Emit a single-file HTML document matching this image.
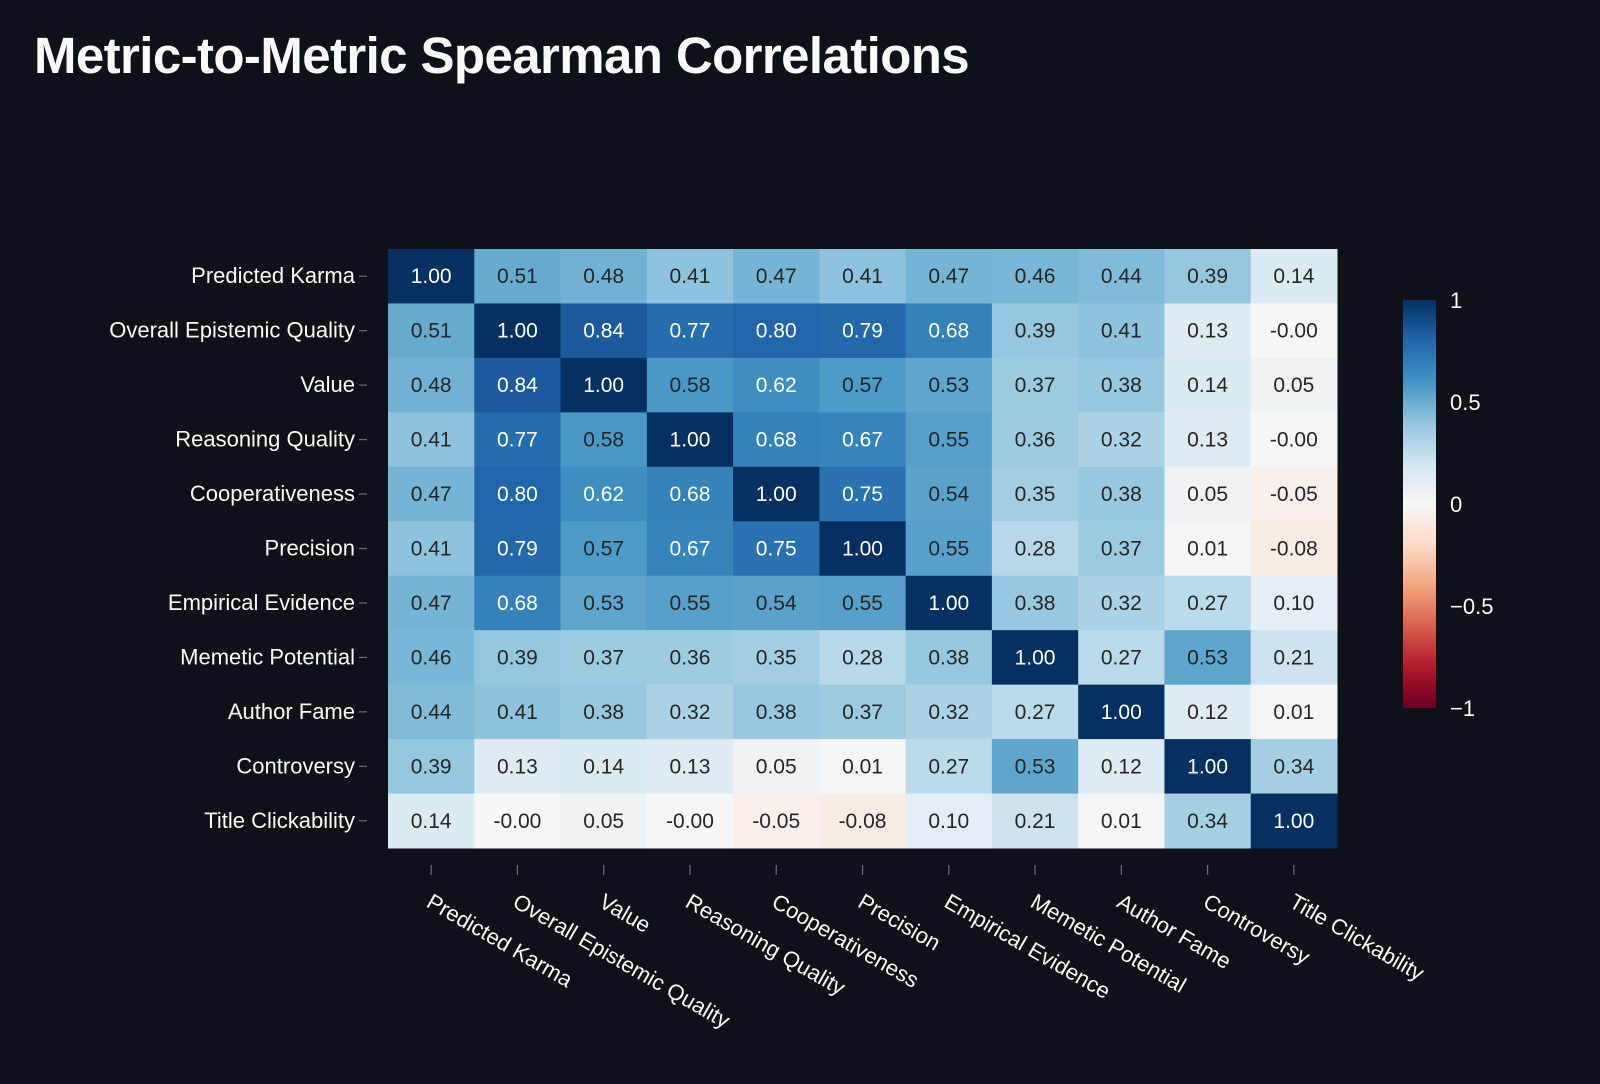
<!DOCTYPE html>
<html><head><meta charset="utf-8">
<style>
html,body{margin:0;padding:0;background:#0e1117;}
body{width:1600px;height:1084px;overflow:hidden;font-family:"Liberation Sans",sans-serif;}
h1{position:absolute;left:34px;top:26px;margin:0;color:#fafafa;font-size:51px;font-weight:bold;letter-spacing:-0.6px;}
</style></head>
<body>
<h1>Metric-to-Metric Spearman Correlations</h1>
<svg id="chart" width="1600" height="1084" style="position:absolute;left:0;top:0" xmlns="http://www.w3.org/2000/svg">
<defs>
<linearGradient id="cbg" x1="0" y1="1" x2="0" y2="0">
<stop offset="0" stop-color="#67001f"/><stop offset="0.1" stop-color="#b2182b"/><stop offset="0.2" stop-color="#d6604d"/><stop offset="0.3" stop-color="#f4a582"/><stop offset="0.4" stop-color="#fddbc7"/><stop offset="0.5" stop-color="#f7f7f7"/><stop offset="0.6" stop-color="#d1e5f0"/><stop offset="0.7" stop-color="#92c5de"/><stop offset="0.8" stop-color="#4393c3"/><stop offset="0.9" stop-color="#2166ac"/><stop offset="1" stop-color="#053061"/>
</linearGradient>
</defs>
</svg>
<script>
const labels = ["Predicted Karma","Overall Epistemic Quality","Value","Reasoning Quality","Cooperativeness","Precision","Empirical Evidence","Memetic Potential","Author Fame","Controversy","Title Clickability"];
const row0 = [1.00,0.51,0.48,0.41,0.47,0.41,0.47,0.46,0.44,0.39,0.14];
const row1 = [0.51,1.00,0.84,0.77,0.80,0.79,0.68,0.39,0.41,0.13,-0.00];
const row2 = [0.48,0.84,1.00,0.58,0.62,0.57,0.53,0.37,0.38,0.14,0.05];
const row3 = [0.41,0.77,0.58,1.00,0.68,0.67,0.55,0.36,0.32,0.13,-0.00];
const row4 = [0.47,0.80,0.62,0.68,1.00,0.75,0.54,0.35,0.38,0.05,-0.05];
const row5 = [0.41,0.79,0.57,0.67,0.75,1.00,0.55,0.28,0.37,0.01,-0.08];
const row6 = [0.47,0.68,0.53,0.55,0.54,0.55,1.00,0.38,0.32,0.27,0.10];
const row7 = [0.46,0.39,0.37,0.36,0.35,0.28,0.38,1.00,0.27,0.53,0.21];
const row8 = [0.44,0.41,0.38,0.32,0.38,0.37,0.32,0.27,1.00,0.12,0.01];
const row9 = [0.39,0.13,0.14,0.13,0.05,0.01,0.27,0.53,0.12,1.00,0.34];
const row10 = [0.14,-0.00,0.05,-0.00,-0.05,-0.08,0.10,0.21,0.01,0.34,1.00];
const matrix = [row0,row1,row2,row3,row4,row5,row6,row7,row8,row9,row10];
const cbTicks = [1,0.5,0,-0.5,-1];
const cbTickLabels = ["1","0.5","0","\u22120.5","\u22121"];

const NS="http://www.w3.org/2000/svg";
const svg=document.getElementById('chart');
const X0=388,X1=1337,Y0=249,Y1=848;
const n=labels.length;
const cw=(X1-X0)/n, ch=(Y1-Y0)/n;
const xPos=i=>X0+i*cw, yPos=i=>Y0+i*ch;
const CB={x:1403,w:33,top:300,bot:708};
const cbY=v=>CB.top+(1-v)/2*(CB.bot-CB.top);
const stops=["#67001f","#b2182b","#d6604d","#f4a582","#fddbc7","#f7f7f7","#d1e5f0","#92c5de","#4393c3","#2166ac","#053061"].map(h=>[1,3,5].map(k=>parseInt(h.substr(k,2),16)));
function color(v){let t=(v+1)/2*10;t=Math.max(0,Math.min(10,t));let i=Math.min(9,Math.floor(t)),f=t-i;const a=stops[i],b=stops[i+1];return a.map((c,k)=>Math.round(c+(b[k]-c)*f));}
function el(tag,attrs){const e=document.createElementNS(NS,tag);for(const k in attrs)e.setAttribute(k,attrs[k]);svg.appendChild(e);return e;}
for(let r=0;r<n;r++){for(let c=0;c<n;c++){
  const v=matrix[r][c];const rgb=color(v);
  const rect=el('rect',{x:xPos(c),y:yPos(r),width:cw+0.5,height:ch+0.5,fill:`rgb(${rgb.join(',')})`});
  
  
  const lum=(0.299*rgb[0]+0.587*rgb[1]+0.114*rgb[2])/255;
  const t=el('text',{x:xPos(c)+cw/2,y:yPos(r)+ch/2+7,'text-anchor':'middle','font-size':21,fill:lum<0.5?'#ffffff':'#262626'});
  t.textContent=Object.is(v,-0)?"-0.00":v.toFixed(2);
  
  
}}
labels.forEach((lab,i)=>{
  const tk=el('line',{x1:X0-29,x2:X0-21,y1:yPos(i)+ch/2,y2:yPos(i)+ch/2,stroke:'#6b6f76','stroke-width':1.2});
  
  
  const t=el('text',{x:X0-33,y:yPos(i)+ch/2+7,'text-anchor':'end','font-size':22,fill:'#fafafa'});
  t.textContent=lab;
  
  
  const cx=xPos(i)+cw/2;
  const tx=el('line',{x1:cx,x2:cx,y1:865,y2:875,stroke:'#6b6f76','stroke-width':1.2});
  
  
  const xt=el('text',{x:cx-6,y:906,'font-size':22,fill:'#fafafa',transform:`rotate(30 ${cx-6} 906)`});
  xt.textContent=lab;
  
  
});
const cb=el('rect',{x:CB.x,y:CB.top,width:CB.w,height:CB.bot-CB.top,fill:'url(#cbg)'});


cbTicks.forEach((v,i)=>{
  const t=el('text',{x:CB.x+47,y:cbY(v)+8,'font-size':22,fill:'#fafafa'});
  t.textContent=cbTickLabels[i];
  
  
});
</script>
</body></html>
